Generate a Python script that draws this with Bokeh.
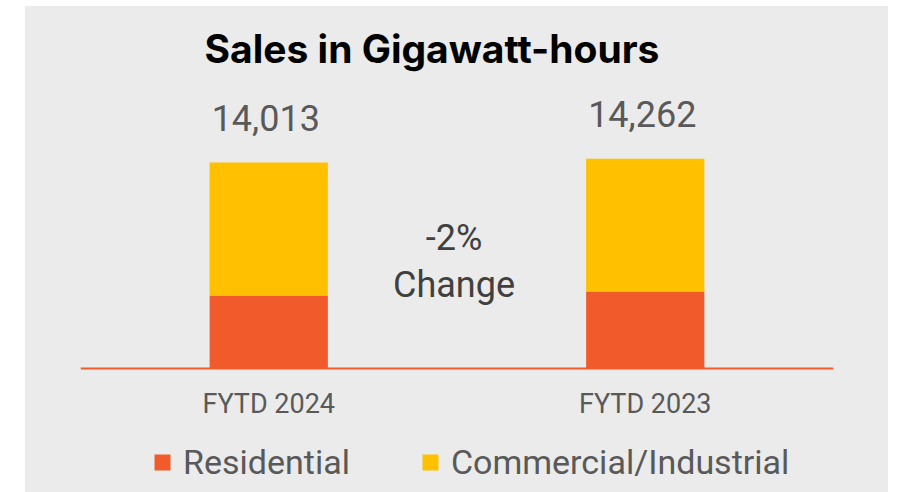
from bokeh.plotting import figure
from bokeh.models import (ColumnDataSource, Range1d, Legend, LegendItem, Title, Spacer)
from bokeh.layouts import row, column
from bokeh.transform import dodge
from bokeh.core.properties import value
from bokeh.embed import file_html
from bokeh.resources import INLINE

# ---- data ----
categories = ["FYTD 2024", "FYTD 2023"]
residential = [4970, 5240]
commercial_industrial = [9043, 9022]
totals = [14013, 14262]
total_labels = ["14,013", "14,262"]
series_names = ["Residential", "Commercial/Industrial"]
title_text = "Sales in Gigawatt-hours"

change_pct = round((totals[0] - totals[1]) / totals[1] * 100)
change_text = f"{change_pct}%\nChange"

ORANGE = "#F15A2B"
YELLOW = "#FFC000"
BG = "#EAEBEA"
GRAY = "#595959"

# layout geometry (pixels)
TOP = 80          # space for the title
FRAME_H = 406     # frame reaches the bottom of the figure
BASE_FROM_TOP = 282   # baseline position inside the frame
PX_PER_UNIT = 206 / 14013
Y_END = BASE_FROM_TOP / PX_PER_UNIT
Y_START = -(FRAME_H - BASE_FROM_TOP) / PX_PER_UNIT

source = ColumnDataSource(dict(
    cat=categories,
    res=residential,
    com=commercial_industrial,
    total=totals,
    label=total_labels,
))

p = figure(
    x_range=categories,
    y_range=Range1d(Y_START, Y_END),
    frame_width=753, frame_height=FRAME_H,
    output_backend="svg",
    toolbar_location=None,
    y_axis_location=None,
    min_border_left=55, min_border_right=55,
    min_border_top=TOP, min_border_bottom=0,
)
p.background_fill_color = BG
p.border_fill_color = BG
p.outline_line_color = None
p.grid.grid_line_color = None
p.styles = {"background-color": BG}

renderers = p.vbar_stack(["res", "com"], x="cat", width=0.314,
                         color=[ORANGE, YELLOW], line_color=None, source=source)

# total labels
p.text(x="cat", y="total", text="label", source=source,
       text_align="center", text_baseline="alphabetic", y_offset=-45, x_offset=-3,
       text_font=value("Roboto"), text_font_size="36px", text_color=GRAY)

# change annotation between the bars
chg_src = ColumnDataSource(dict(cat=[categories[0]], y=[sum(totals) / len(totals) * 0.5],
                                t=[change_text]))
p.text(x=dodge("cat", 0.5, range=p.x_range), y="y", text="t", source=chg_src,
       text_align="center", text_baseline="middle", text_line_height=1.1,
       y_offset=-3, x_offset=-3,
       text_font=value("Roboto"), text_font_size="36px", text_color="#404040")

# x axis drawn at y = 0 inside the frame
ax = p.xaxis[0]
ax.fixed_location = 0
ax.axis_line_color = ORANGE
ax.axis_line_width = 2
ax.major_tick_line_color = None
ax.minor_tick_line_color = None
ax.major_tick_out = 0
ax.major_tick_in = 0
ax.major_label_standoff = 19
ax.major_label_text_font = "Roboto"
ax.major_label_text_font_size = "27px"
ax.major_label_text_color = GRAY

# legend at the bottom of the frame
legend = Legend(
    items=[LegendItem(label=series_names[i], renderers=[renderers[i]]) for i in range(2)],
    orientation="horizontal", location=(72, 10),
    glyph_width=20, glyph_height=20, label_standoff=11, spacing=70,
    label_text_font="Roboto", label_text_font_size="34px", label_text_color=GRAY,
    border_line_color=None, background_fill_alpha=0, padding=5, margin=0,
)
p.add_layout(legend)

# title
p.title = Title(text=title_text, align="left", offset=124, standoff=30,
                text_font="Inter", text_font_style="bold", text_font_size="39px",
                text_color="black")

layout = column(Spacer(width=10, height=6), row(Spacer(width=25, height=10), p))
open("out.html", "w").write(file_html(layout, INLINE))
